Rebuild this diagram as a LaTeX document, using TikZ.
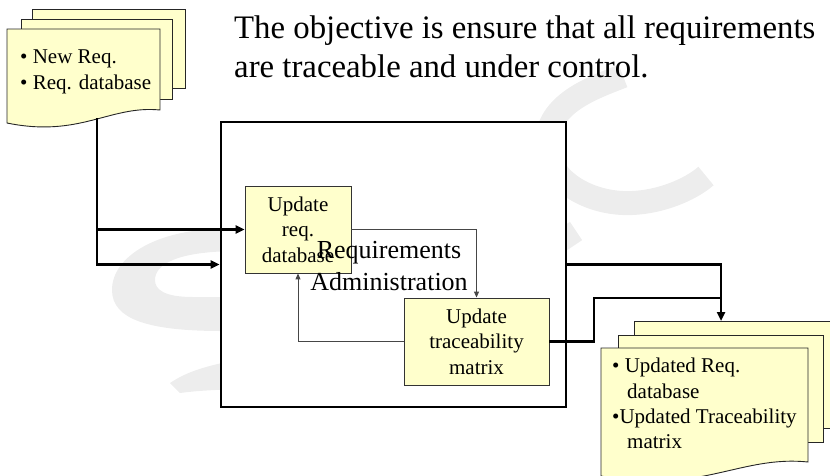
\documentclass[tikz,border=0pt]{standalone}
\usepackage{fontspec}
\setmainfont{Liberation Serif}
\usetikzlibrary{arrows.meta}
\definecolor{paper}{RGB}{255,255,204}
\definecolor{wmgray}{RGB}{237,237,237}
\definecolor{wire}{RGB}{70,70,70}
\begin{document}
\begin{tikzpicture}[x=1pt,y=-1pt,
  sheet/.style={draw=black!85, fill=paper, line width=0.9pt, line join=miter},
  stepbox/.style={draw=black!80, fill=paper, line width=0.9pt, align=center,
    inner sep=0pt, font=\fontsize{21}{25.5}\selectfont},
  procbox/.style={draw=black, fill=white, line width=2.6pt, inner sep=0pt},
  flow/.style={draw=black, line width=2.3pt, -{Triangle[length=9pt,width=8pt]}},
  flowline/.style={draw=black, line width=2.3pt},
  feed/.style={draw=wire, line width=1pt, -{Triangle[length=6pt,width=5pt]}},
  doctext/.style={anchor=north west, align=left, inner sep=0pt,
    font=\fontsize{21}{25.3}\selectfont},
  swoosh/.style={draw=wmgray, line width=24pt, line cap=butt}
]
\useasboundingbox (0,0) rectangle (830,475);

% faint logo in the background
\draw[swoosh] (623,76) .. controls (595,87) and (550,102) .. (547,140)
  .. controls (544,180) and (590,205) .. (632,203)
  .. controls (660,202) and (690,190) .. (706,176);
\draw[swoosh, line width=22pt] (540,255) -- (576,231);
\fill[wmgray] (240,229) -- (222,229) .. controls (160,229) and (112,255) .. (112,290)
  .. controls (112,320) and (150,331) .. (222,331) -- (240,331) -- (240,297)
  -- (193,297) .. controls (165,297) and (155,290) .. (155,280)
  .. controls (155,265) and (175,251) .. (240,251) -- cycle;
\fill[wmgray] (240,360) -- (222,363) .. controls (200,368) and (185,373) .. (170,383)
  -- (180,393) .. controls (195,391) and (210,390) .. (240,389) -- cycle;

% input documents
\draw[sheet] (32,9) rectangle (185,88);
\draw[sheet] (21,19) rectangle (172,99);
\draw[sheet] (7,29) -- (160,29) -- (160,110) .. controls (110,105) and (80,138) .. (7,123) -- cycle;
\node[doctext] (inText) at (20,50) {• New Req.\\• Req. database};
\coordinate (inTap) at (97,118);

% goal statement
\node[anchor=north west, align=left, inner sep=0pt, font=\fontsize{32.8}{39}\selectfont]
  (goal) at (234,16) {The objective is ensure that all requirements\\are traceable and under control.};

% process and its steps
\node[procbox, minimum width=345pt, minimum height=285pt] (proc) at (393.5,264.5) {};
\node[stepbox, minimum width=106pt, minimum height=87pt] (upd) at (298,229.5) {Update\\req.\\database};
\node[stepbox, minimum width=145pt, minimum height=87pt] (trace) at (476.5,341.5) {Update\\traceability\\matrix};
\node[align=center, inner sep=0pt, font=\fontsize{26}{32}\selectfont] (procName) at (389,266)
  {Requirements\\Administration};

\draw[feed] (upd.east) -| (trace.north);
\draw[feed] (trace.west) -| (upd.south);

% inputs and outputs
\coordinate (outTop) at (721,321);
\coordinate (jog) at (594,298);
\draw[flow] (inTap) |- (proc.west);
\draw[flow] (inTap |- upd.west) -- (upd.west);
\draw[flowline] (trace.east) -| (jog) -- (jog -| outTop);
\draw[flow] (proc.east) -| (outTop);

% output documents
\draw[sheet] (634,321) rectangle (850,428);
\draw[sheet] (618,335) rectangle (823,442);
\draw[sheet] (601,348) -- (808,348) -- (808,462) .. controls (740,455) and (700,495) .. (601,476) -- cycle;
\node[doctext] (outText) at (612,358)
  {• Updated Req.\\\hspace*{15pt}database\\•Updated Traceability\\\hspace*{15pt}matrix};
\end{tikzpicture}
\end{document}
